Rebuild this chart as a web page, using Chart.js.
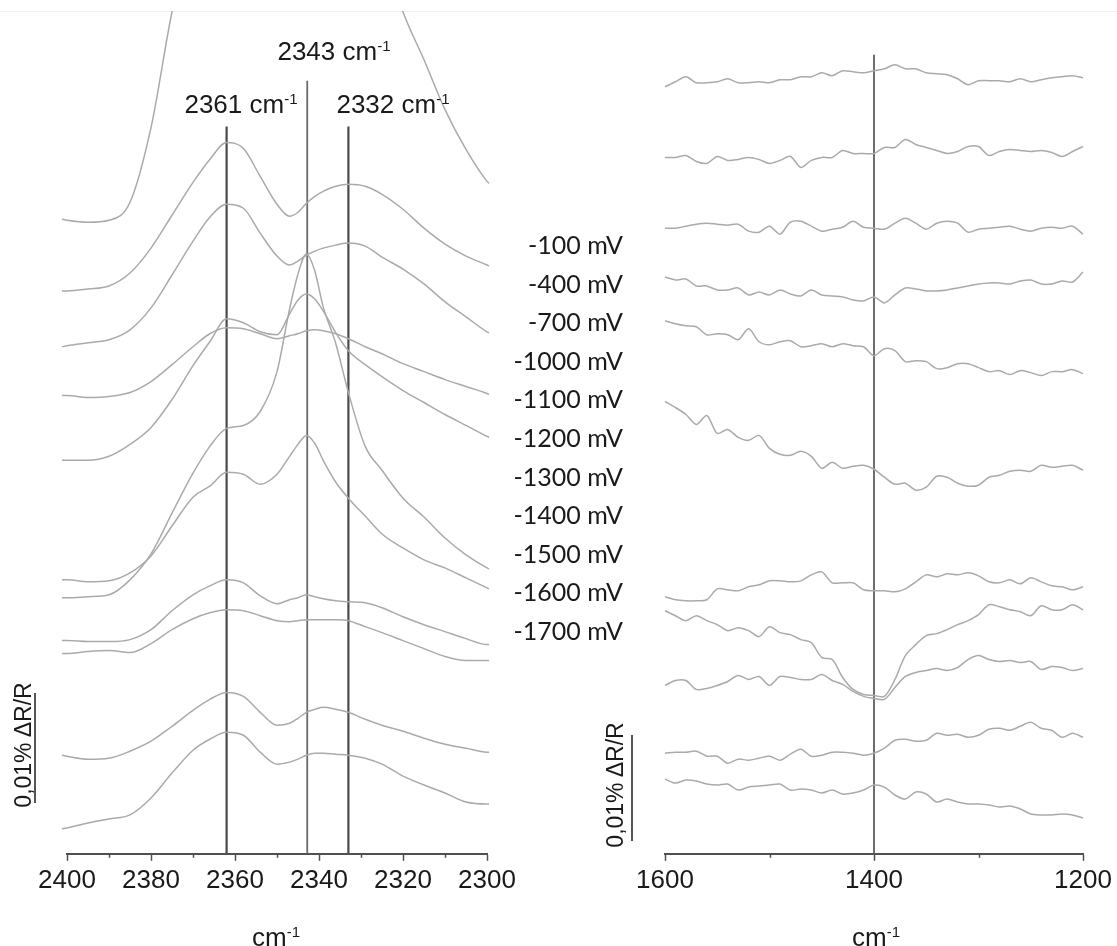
<!DOCTYPE html>
<html>
<head>
<meta charset="utf-8">
<script src="https://cdn.jsdelivr.net/npm/chart.js@4.4.1/dist/chart.umd.min.js"></script>
<style>
  html, body { margin: 0; padding: 0; background: #fff; }
  #wrap { position: relative; width: 1117px; height: 946px; overflow: hidden; background: #fff; }
  canvas { position: absolute; top: 0; }
  .lbl { position: absolute; font-family: "Liberation Sans", Arial, sans-serif; color: #1a1a1a; white-space: nowrap; line-height: 1; }
  .sup { font-size: 0.58em; position: relative; top: -0.62em; }
  .volt { position: absolute; font-family: Lato, "Open Sans", sans-serif; font-size: 25px; color: #1a1a1a; white-space: nowrap; line-height: 1; text-align: right; }
  .rot { position: absolute; font-family: "Liberation Sans", Arial, sans-serif; font-size: 23px; color: #1a1a1a; white-space: nowrap; line-height: 1; transform: translate(-50%, -50%) rotate(-90deg); }
  .bar { position: absolute; background: #555; width: 2px; }
</style>
</head>
<body>
<div id="wrap">
  <div style="position:absolute;left:0;top:11px;width:1117px;height:1px;background:#f0f0f0;"></div>
  <canvas id="left" width="540" height="946" style="left:0"></canvas>
  <canvas id="right" width="560" height="946" style="left:557px"></canvas>
</div>
<script>
// ---------- Left panel data (CO2 region), offset spectra, a.u. (0.01 % dR/R = 110 a.u.) ----------
const leftWavenumbers = [2401.2,2400,2395,2390,2385,2380,2375,2370,2366,2362,2358,2354,2350,2347,2345,2343,2341,2339,2336,2333,2329,2325,2320,2315,2310,2305,2300,2299.5];
const leftA = [637,636,634,636,654,729,845,930,990,1030,1060,1080,1090,1095,1095,1095,1090,1085,1060,1030,980,910,845,797,747,707,675,673];
const leftB = [565,565,567,570,583,608,641,674,697,714,708,680,652,640,644,653,660,665,670,672,670,662,647,628,612,600,591,590];
const leftC = [509,510,513,516,526,548,581,615,639,652,648,623,600,591,595,601,605,608,611,613,610,599,587,572,554,539,524,523];
const leftD = [460,460,458,459,463,474,491,509,522,528,527,522,517,520,522,525,526,525,522,517,509,502,492,484,476,469,462,461];
const leftE = [395,395,395,399,411,428,456,490,514,537,533,524,521,542,556,562,557,545,523,505,491,479,465,453,441,430,419,418];
const leftF = [257,257,258,260,275,301,342,382,409,427,430,444,484,547,582,602,585,549,512,463,409,385,357,338,317,300,287,286];
const leftG = [275,275,273,274,282,299,329,358,369,383,381,371,381,399,411,420,412,395,373,357,339,321,307,295,287,277,267,266];
const leftH = [214,214,213,213,215,225,244,260,269,275,272,259,251,255,257,260,258,256,254,253,252,247,238,230,223,216,210,210];
const leftI = [201,201,203,204,202,211,225,236,242,245,244,239,234,233,234,235,235,235,235,234,228,222,214,206,198,194,194,194];
const leftJ = [99,98,95,96,103,113,128,144,155,162,158,142,129,131,136,142,145,147,145,142,135,129,123,116,110,106,102,102];
const leftK = [25,26,31,35,39,56,81,104,115,122,119,102,90,92,95,99,101,101,100,99,96,90,78,69,61,52,50,50];
const leftSeries = [leftA,leftB,leftC,leftD,leftE,leftF,leftG,leftH,leftI,leftJ,leftK];

// marker lines: wavenumber and top height (a.u.)
const leftMarkers = [2362, 2342.8, 2333];
const leftMarkerTops = [730, 776, 730];
const leftTicks = [2400, 2380, 2360, 2340, 2320, 2300];
const leftMinorTicks = [2390, 2370, 2350, 2330, 2310];

// ---------- Right panel data (1600-1200 cm-1) ----------
const rightWavenumbers = [1600,1590,1580,1570,1560,1550,1540,1530,1520,1510,1500,1490,1480,1470,1460,1450,1440,1430,1420,1410,1400,1390,1380,1370,1360,1350,1340,1330,1320,1310,1300,1290,1280,1270,1260,1250,1240,1230,1220,1210,1200];
const right1 = [770,775,780,774,774,775,778,774,774,775,774,777,777,780,780,784,781,786,785,784,786,788,792,788,788,784,783,782,778,772,776,776,776,775,778,775,777,779,780,781,779];
const right2 = [699,699,701,695,693,700,696,697,699,697,693,696,700,689,696,699,699,706,703,703,703,709,709,717,712,709,706,703,705,710,710,701,705,707,706,705,706,704,700,705,710];
const right3 = [628,628,630,632,633,632,631,632,625,624,630,622,634,635,630,625,627,629,635,629,628,627,633,638,633,627,633,635,633,624,627,628,629,630,627,625,628,629,628,630,622];
const right4 = [579,576,577,570,570,566,566,568,561,564,561,566,562,560,566,561,560,559,556,555,559,553,561,568,567,565,565,566,568,570,572,573,573,572,575,576,572,572,575,574,584];
const right5 = [535,532,530,529,521,522,521,516,527,514,511,514,515,509,510,512,509,512,510,509,500,507,505,494,495,494,487,488,492,492,488,484,485,481,485,483,480,484,484,486,482];
const right6 = [454,448,441,431,440,422,426,418,415,420,407,401,400,404,399,387,393,387,389,390,386,378,371,372,365,368,379,378,372,369,370,378,380,384,385,384,390,388,389,390,385];
const right7 = [258,255,254,254,255,266,265,264,268,270,274,274,273,274,280,283,272,272,272,265,264,264,263,266,273,280,278,281,280,282,279,273,272,275,271,277,273,269,268,265,268];
const right8 = [244,239,234,239,234,230,224,227,224,218,228,222,220,215,212,197,195,177,165,160,159,158,175,199,210,219,221,225,230,234,240,250,248,245,243,239,249,245,245,250,245];
const right9 = [169,174,174,165,166,169,173,179,175,178,169,178,177,175,175,180,174,170,163,158,156,155,167,178,182,184,186,184,187,195,199,195,193,194,192,193,185,188,187,184,186];
const right10 = [101,102,102,103,98,98,91,95,94,96,98,94,100,105,98,99,102,102,101,99,101,106,114,115,113,114,121,119,120,117,119,125,126,124,128,132,126,124,117,121,117];
const right11 = [75,71,74,73,70,69,70,64,67,68,69,70,64,65,64,61,64,60,61,64,69,67,59,55,62,60,52,55,52,50,50,49,47,48,45,40,39,39,40,39,36];
const rightSeries = [right1,right2,right3,right4,right5,right6,right7,right8,right9,right10,right11];

const rightMarkers = [1400];
const rightMarkerTops = [802];
const rightTicks = [1600, 1400, 1200];
const rightMinorTicks = [1500, 1300];

const voltageLabels = ['-100 mV','-400 mV','-700 mV','-1000 mV','-1100 mV','-1200 mV','-1300 mV','-1400 mV','-1500 mV','-1600 mV','-1700 mV'];
const peakLabels = [['2361', 241, 95], ['2343', 334, 42], ['2332', 393, 95]];

const CURVE = '#aaaaaa', AXIS = '#505050';
const FONT = '"Liberation Sans", Arial, sans-serif';

function minorTickPlugin(values) {
  return {
    id: 'minorTicks',
    afterDraw(chart) {
      const s = chart.scales.x, ctx = chart.ctx;
      ctx.save();
      ctx.strokeStyle = AXIS; ctx.lineWidth = 1.5;
      values.forEach(v => {
        const px = Math.round(s.getPixelForValue(v)) + 0.5;
        ctx.beginPath(); ctx.moveTo(px, s.top); ctx.lineTo(px, s.top + 4); ctx.stroke();
      });
      ctx.restore();
    }
  };
}

function makePanel(id, xs, series, markers, markerTops, ticksVals, minor, pad, mono, tension, markColorArr, markWidthArr) {
  const datasets = series.map(ys => ({
    data: xs.map((x, i) => ({ x: x, y: ys[i] })),
    borderColor: CURVE, borderWidth: 1.5, pointRadius: 0, fill: false,
    tension: tension, cubicInterpolationMode: mono ? 'monotone' : 'default',
    clip: { left: 6, right: 3, top: 0, bottom: 0 }
  }));
  markers.forEach((m, i) => datasets.push({
    data: [{ x: m, y: 0 }, { x: m, y: markerTops[i] }],
    borderColor: markColorArr[i], borderWidth: markWidthArr[i], pointRadius: 0, fill: false, tension: 0
  }));
  return new Chart(document.getElementById(id), {
    type: 'line',
    data: { datasets },
    options: {
      responsive: false, animation: false, devicePixelRatio: 1,
      layout: { padding: pad },
      plugins: { legend: { display: false }, tooltip: { enabled: false } },
      scales: {
        x: {
          type: 'linear', reverse: true,
          min: Math.min(...ticksVals), max: Math.max(...ticksVals),
          afterBuildTicks: (axis) => { axis.ticks = ticksVals.map(v => ({ value: v })); },
          ticks: { font: { family: FONT, size: 26 }, color: '#1a1a1a', padding: 4, maxRotation: 0, autoSkip: false,
                   callback: (v) => String(v) },
          grid: { drawOnChartArea: false, drawTicks: true, tickLength: 7, color: AXIS, tickWidth: 1.5 },
          border: { display: true, color: AXIS, width: 2 }
        },
        y: { type: 'linear', display: false, min: 0, max: 846 }
      }
    },
    plugins: [minorTickPlugin(minor)]
  });
}

makePanel('left', leftWavenumbers, leftSeries, leftMarkers, leftMarkerTops, leftTicks, leftMinorTicks,
  { left: 67, right: 53, top: 11, bottom: 46 }, true, 0.4, ['#4a4a4a', '#6a6a6a', '#4a4a4a'], [2.2, 1.8, 2.2]);
makePanel('right', rightWavenumbers, rightSeries, rightMarkers, rightMarkerTops, rightTicks, rightMinorTicks,
  { left: 108, right: 34, top: 11, bottom: 46 }, false, 0.3, ['#5e5e5e'], [1.8]);

// ---------- Text overlays ----------
const wrap = document.getElementById('wrap');
function addDiv(cls, html, style) {
  const d = document.createElement('div'); d.className = cls; d.innerHTML = html;
  Object.assign(d.style, style); wrap.appendChild(d); return d;
}
peakLabels.forEach(([t, cx, top]) => {
  const d = addDiv('lbl', t + ' cm<span class="sup">-1</span>', { fontSize: '26px', top: (top - 4) + 'px', left: cx + 'px' });
  d.style.transform = 'translateX(-50%)';
});
voltageLabels.forEach((t, i) => {
  const cy = 246 + i * 38.6;
  addDiv('volt', t, { right: (1117 - 623) + 'px', top: (cy - 14) + 'px' });
});
// axis titles
[[276, 924], [876, 924]].forEach(([cx, top]) => {
  const d = addDiv('lbl', 'cm<span class="sup">-1</span>', { fontSize: '26px', top: top + 'px', left: cx + 'px' });
  d.style.transform = 'translateX(-50%)';
});
// scale bars
addDiv('rot', '0,01% \u0394R/R', { left: '23px', top: '745px' });
addDiv('bar', '', { left: '34px', top: '693px', height: '110px' });
addDiv('rot', '0,01% \u0394R/R', { left: '615px', top: '785px' });
addDiv('bar', '', { left: '631px', top: '735px', height: '106px' });
</script>
</body>
</html>
